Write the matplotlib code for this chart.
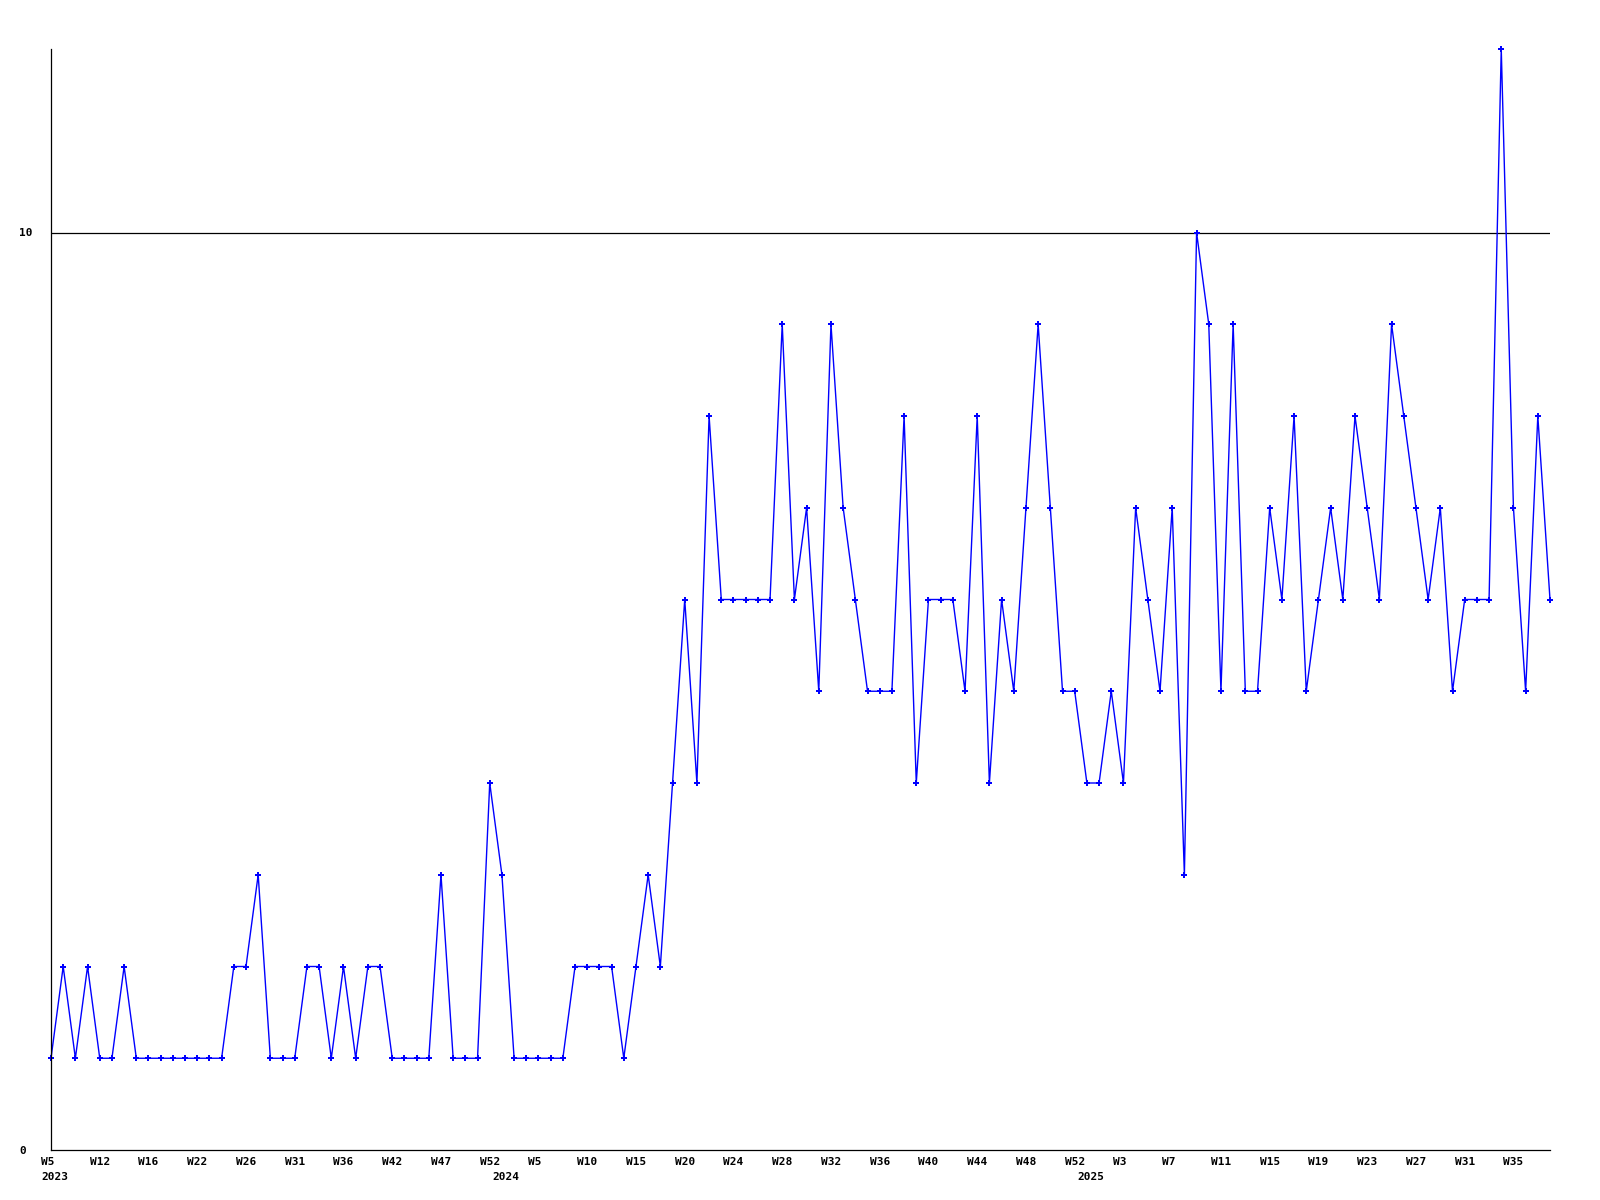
import matplotlib
matplotlib.use("Agg")
import matplotlib.pyplot as plt
import matplotlib.transforms as mtransforms
import numpy as np

# weekly values, 124 consecutive entries (2023 W5 .. 2025 W38)
values = [
    1, 2, 1, 2, 1, 1, 2, 1, 1, 1, 1, 1, 1, 1, 1, 2,
    2, 3, 1, 1, 1, 2, 2, 1, 2, 1, 2, 2, 1, 1, 1, 1,
    3, 1, 1, 1, 4, 3, 1, 1, 1, 1, 1, 2, 2, 2, 2, 1,
    2, 3, 2, 4, 6, 4, 8, 6, 6, 6, 6, 6, 9, 6, 7, 5,
    9, 7, 6, 5, 5, 5, 8, 4, 6, 6, 6, 5, 8, 4, 6, 5,
    7, 9, 7, 5, 5, 4, 4, 5, 4, 7, 6, 5, 7, 3, 10, 9,
    5, 9, 5, 5, 7, 6, 8, 5, 6, 7, 6, 8, 7, 6, 9, 8,
    7, 6, 7, 5, 6, 6, 6, 12, 7, 5, 8, 6,
]

# labels shown every 4th week
week_labels = [
    "W5", "W12", "W16", "W22", "W26", "W31", "W36", "W42", "W47", "W52",
    "W5", "W10", "W15", "W20", "W24", "W28", "W32", "W36", "W40", "W44",
    "W48", "W52", "W3", "W7", "W11", "W15", "W19", "W23", "W27", "W31", "W35",
]
year_labels = ["2023", "2024", "2025"]
year_pos = [0, 37, 85]

font = dict(family="DejaVu Sans Mono", weight="bold", size=8)

fig = plt.figure(figsize=(16, 12), dpi=100)
ax = fig.add_axes([51 / 1600, 1 - 1150 / 1200, (1550 - 51) / 1600, (1150 - 49) / 1200])

x = np.arange(len(values))
ax.plot(x, values, color="#0000ff", lw=1.0, marker="P", ms=4, mew=0, clip_on=False)
ax.axhline(10, color="black", lw=0.9, zorder=0)

ax.set_xlim(0, len(values) - 1)
ax.set_ylim(0, 12)

for side in ("top", "right"):
    ax.spines[side].set_visible(False)
for side in ("left", "bottom"):
    ax.spines[side].set_linewidth(0.9)

ax.set_yticks([0, 10])
ax.set_yticklabels(["0", "10"], **font)
ax.tick_params(axis="y", length=0, pad=23)
for lbl in ax.get_yticklabels():
    lbl.set_horizontalalignment("left")

# year labels sit on minor ticks, one may share a spot with a week label
ax.xaxis.remove_overlapping_locs = False
ax.set_xticks(x[::4])
ax.set_xticklabels(week_labels, **font)
ax.set_xticks(year_pos, minor=True)
ax.set_xticklabels(year_labels, minor=True, **font)
ax.tick_params(axis="x", which="major", length=0, pad=5)
ax.tick_params(axis="x", which="minor", length=0, pad=16)

# labels start a little left of their week
shift = mtransforms.ScaledTranslation(-10 / 100, 0, fig.dpi_scale_trans)
for lbl in ax.get_xticklabels() + ax.get_xticklabels(minor=True):
    lbl.set_horizontalalignment("left")
    lbl.set_transform(lbl.get_transform() + shift)

fig.savefig("out.png", dpi=100, facecolor="white")
